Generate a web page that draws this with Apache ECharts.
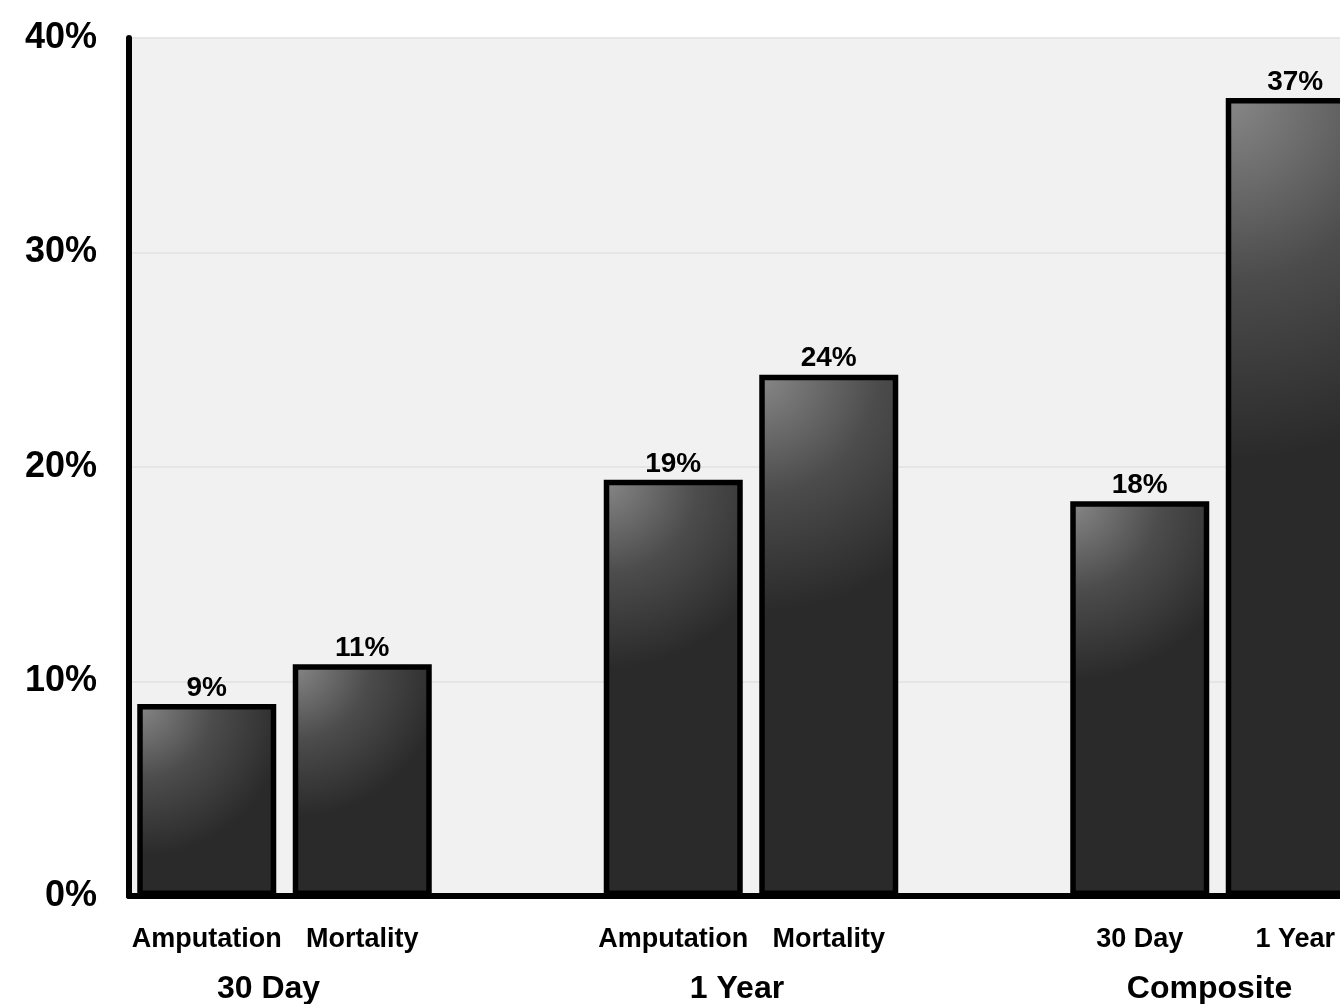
<!DOCTYPE html>
<html>
<head>
<meta charset="utf-8">
<title>Amputation and Mortality</title>
<script src="https://cdn.jsdelivr.net/npm/echarts@6/dist/echarts.min.js"></script>
<style>
  html, body { margin: 0; padding: 0; background: #ffffff; }
  #chart { width: 1340px; height: 1004px; }
</style>
</head>
<body>
<div id="chart"></div>
<script>
// Bar slots; empty names leave a gap between the outcome groups.
const barNames = ['Amputation', 'Mortality', '', 'Amputation', 'Mortality', '', '30 Day', '1 Year'];
// Event rates in percent ('-' = no bar in that slot).
const rates = [8.95, 10.8, '-', 19.4, 24.3, '-', 18.4, 37.2];
// Group titles sit on the slot boundaries between each pair of bars.
const groupNames = ['', '30 Day', '', '', '1 Year', '', '', 'Composite', ''];
// Small leftward nudge of each group title, in px.
const groupShift = { '30 Day': 32, '1 Year': 28, 'Composite': 16 };
// Y-axis range and step, in percent.
const yMin = 0, yMax = 40, yStep = 10;

const FONT = "'Liberation Sans', Arial, Helvetica, sans-serif";

// Shaded fill: light at the top-left corner, darkening toward the base.
function barFill(v) {
  const r = Math.max(1.1, v * 0.07);
  return {
    type: 'radial', x: 0, y: 0, r: r,
    colorStops: [
      { offset: 0, color: '#888888' },
      { offset: 0.5, color: '#4c4c4c' },
      { offset: 1, color: '#2a2a2a' }
    ]
  };
}

const seriesData = rates.map(v => v === '-' ? '-' : { value: v, itemStyle: { color: barFill(v) } });

const groupKeys = Object.keys(groupShift);
const rich = {};
groupKeys.forEach((k, i) => {
  rich['g' + i] = {
    fontFamily: FONT, fontWeight: 'bold', fontSize: 32, color: '#000',
    padding: [0, groupShift[k], 0, 0]
  };
});

const chart = echarts.init(document.getElementById('chart'), null, { renderer: 'canvas' });
chart.setOption({
  animation: false,
  backgroundColor: '#ffffff',
  grid: {
    left: 129, top: 38, bottom: 108, width: 1244,
    outerBoundsMode: 'none',
    containLabel: false,
    show: true, backgroundColor: '#f1f1f1', borderWidth: 0
  },
  xAxis: [
    {
      type: 'category',
      data: barNames,
      axisLine: { show: true, lineStyle: { color: '#000', width: 6 } },
      axisTick: { show: false },
      axisLabel: {
        interval: 0, margin: 30,
        fontFamily: FONT, fontWeight: 'bold', fontSize: 27, color: '#000'
      },
      z: 5
    },
    {
      type: 'category',
      position: 'bottom',
      boundaryGap: false,
      data: groupNames,
      axisLine: { show: false },
      axisTick: { show: false },
      splitLine: { show: false },
      axisLabel: {
        interval: 0, margin: 77,
        fontFamily: FONT, fontWeight: 'bold', fontSize: 32, color: '#000',
        formatter: function (name) {
          const i = groupKeys.indexOf(name);
          return i < 0 ? '' : '{g' + i + '|' + name + '}';
        },
        rich: rich
      }
    }
  ],
  yAxis: {
    type: 'value',
    min: yMin, max: yMax, interval: yStep,
    axisLine: { show: true, lineStyle: { color: '#000', width: 6 } },
    axisTick: { show: false },
    splitLine: { show: true, lineStyle: { color: '#e0e0e0', width: 1.5 } },
    axisLabel: {
      margin: 32,
      fontFamily: FONT, fontWeight: 'bold', fontSize: 36, color: '#000',
      formatter: v => v + '%'
    },
    z: 1
  },
  series: [
    {
      type: 'bar',
      xAxisIndex: 0,
      data: seriesData,
      barWidth: 139,
      itemStyle: { borderColor: '#000', borderWidth: 5.5 },
      label: {
        show: true, position: 'top', distance: 2,
        fontFamily: FONT, fontWeight: 'bold', fontSize: 28, color: '#000',
        formatter: p => Math.round(p.value) + '%'
      },
      z: 3
    }
  ]
});
</script>
</body>
</html>
